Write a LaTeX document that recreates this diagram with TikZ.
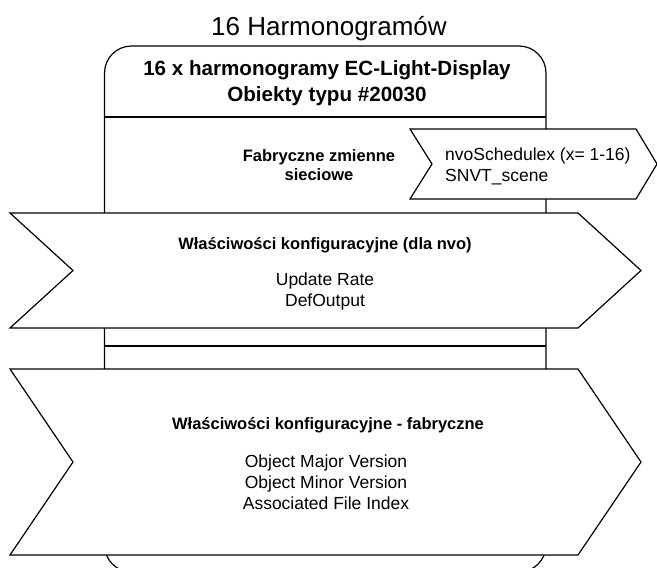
\documentclass[tikz,border=0pt]{standalone}
\usepackage{fontspec}
\setmainfont{Liberation Sans}

\begin{document}
\begin{tikzpicture}[x=1pt,y=-1pt]
  \tikzstyle{outline} = [line width=1.2pt, draw=black, line join=miter]
  \tikzstyle{chevron} = [outline, fill=white]
  \tikzstyle{bigtxt} = [inner sep=0pt, font=\fontsize{26}{30}\selectfont]
  \tikzstyle{headtxt} = [inner sep=0pt, align=center, font=\bfseries\fontsize{20.6}{26.5}\selectfont]
  \tikzstyle{boldtxt} = [inner sep=0pt, align=center, font=\bfseries\fontsize{16.5}{18.5}\selectfont]
  \tikzstyle{plaintxt} = [inner sep=0pt, align=center, font=\fontsize{17.5}{21}\selectfont]
  \useasboundingbox (0,0) rectangle (657,568);

  % object frame
  \draw[outline, rounded corners=27pt] (104.5,46) rectangle (546,572);
  \draw[outline] (104.5,117) -- (546,117);
  \draw[outline] (104.5,346) -- (546,346);

  % chevrons
  \draw[chevron] (410,129) -- (636,129) -- (657,164) -- (636,199) -- (410,199) -- (432,164) -- cycle;
  \draw[chevron] (10,213) -- (578,213) -- (641,270.5) -- (578,328) -- (10,328) -- (73,270.5) -- cycle;
  \draw[chevron] (10,369) -- (578,369) -- (641,462) -- (578,555) -- (10,555) -- (73,462) -- cycle;

  % texts
  \node[bigtxt, anchor=base] (title) at (329,35) {16 Harmonogramów};
  \node[headtxt] (head) at (327,83) {16 x harmonogramy EC-Light-Display\\Obiekty typu \#20030};
  \node[boldtxt] (nvlabel) at (319,165) {Fabryczne zmienne\\sieciowe};
  \node[plaintxt, align=left, anchor=west] (nvo) at (445,166) {nvoSchedulex (x= 1-16)\\SNVT\_scene};
  \node[boldtxt, anchor=base] (cpnvo) at (325,249) {Właściwości konfiguracyjne (dla nvo)};
  \node[plaintxt] (cpnvolist) at (325,291) {Update Rate\\DefOutput};
  \node[boldtxt, anchor=base] (cpfab) at (328,429) {Właściwości konfiguracyjne - fabryczne};
  \node[plaintxt] (cpfablist) at (326,482.5) {Object Major Version\\Object Minor Version\\Associated File Index};
\end{tikzpicture}
\end{document}
